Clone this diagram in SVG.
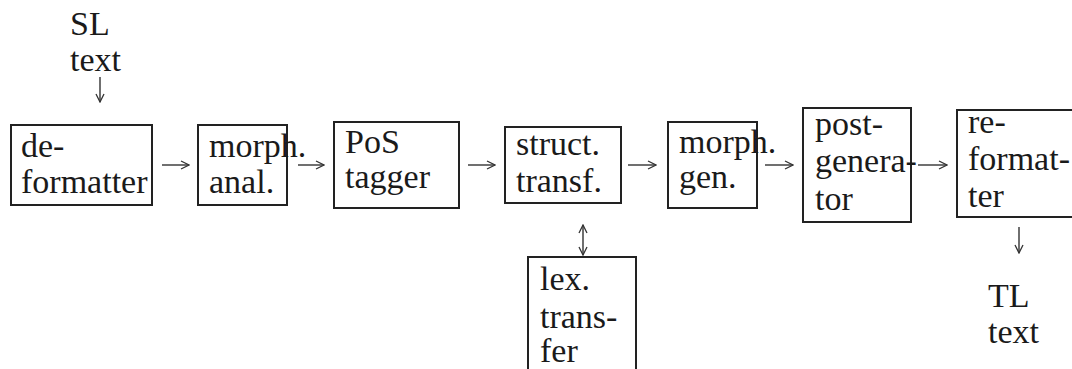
<svg xmlns="http://www.w3.org/2000/svg" width="1072" height="369" viewBox="0 0 1072 369">
<defs>
<marker id="ah" viewBox="0 0 10 10" refX="9" refY="5" markerWidth="10" markerHeight="10" markerUnits="userSpaceOnUse" orient="auto-start-reverse">
<path d="M1,1 L9,5 L1,9" fill="none" stroke="#333" stroke-width="1.3"/>
</marker>
<style>
.box{fill:#fff;stroke:#222;stroke-width:2}
.t{font-family:"Liberation Serif","DejaVu Serif",serif;font-size:34px;fill:#1a1a1a}
.c{stroke:#333;stroke-width:1.4;fill:none;marker-end:url(#ah)}
.d{stroke:#333;stroke-width:1.4;fill:none;marker-end:url(#ah);marker-start:url(#ah)}
</style>
</defs>
<rect width="1072" height="369" fill="#fff"/>
<g id="sl-text"><text class="t" x="70" y="35">SL</text><text class="t" x="70" y="71">text</text></g>
<g id="deformatter"><rect class="box" x="11" y="125" width="141" height="80"/><text class="t" x="21" y="157">de-</text><text class="t" x="21" y="193">formatter</text></g>
<g id="morph-anal"><rect class="box" x="198" y="125" width="89" height="80"/><text class="t" x="209" y="157">morph.</text><text class="t" x="209" y="193">anal.</text></g>
<g id="pos-tagger"><rect class="box" x="334" y="122" width="125" height="86"/><text class="t" x="345" y="153">PoS</text><text class="t" x="345" y="188">tagger</text></g>
<g id="struct-transf"><rect class="box" x="505" y="127" width="116" height="76"/><text class="t" x="516" y="155">struct.</text><text class="t" x="516" y="192">transf.</text></g>
<g id="lex-transfer"><rect class="box" x="528" y="257" width="108" height="120"/><text class="t" x="540" y="290">lex.</text><text class="t" x="540" y="328">trans-</text><text class="t" x="540" y="362">fer</text></g>
<g id="morph-gen"><rect class="box" x="668" y="122" width="89" height="86"/><text class="t" x="679" y="153">morph.</text><text class="t" x="679" y="188">gen.</text></g>
<g id="post-generator"><rect class="box" x="803" y="108" width="108" height="114"/><text class="t" x="815" y="135">post-</text><text class="t" x="815" y="172">genera-</text><text class="t" x="815" y="210">tor</text></g>
<g id="reformatter"><rect class="box" x="957" y="110" width="120" height="107"/><text class="t" x="968" y="133">re-</text><text class="t" x="968" y="170">format-</text><text class="t" x="968" y="207">ter</text></g>
<g id="tl-text"><text class="t" x="988" y="307">TL</text><text class="t" x="988" y="343">text</text></g>
<g id="connectors">
<path class="c" d="M100,77 V102"/>
<path class="c" d="M162,165 H189"/>
<path class="c" d="M298,165 H324"/>
<path class="c" d="M468,165 H495"/>
<path class="c" d="M628,165 H656"/>
<path class="c" d="M765,165 H793"/>
<path class="c" d="M918,165 H947"/>
<path class="d" d="M583,225 V255"/>
<path class="c" d="M1019,227 V253"/>
</g>
</svg>
